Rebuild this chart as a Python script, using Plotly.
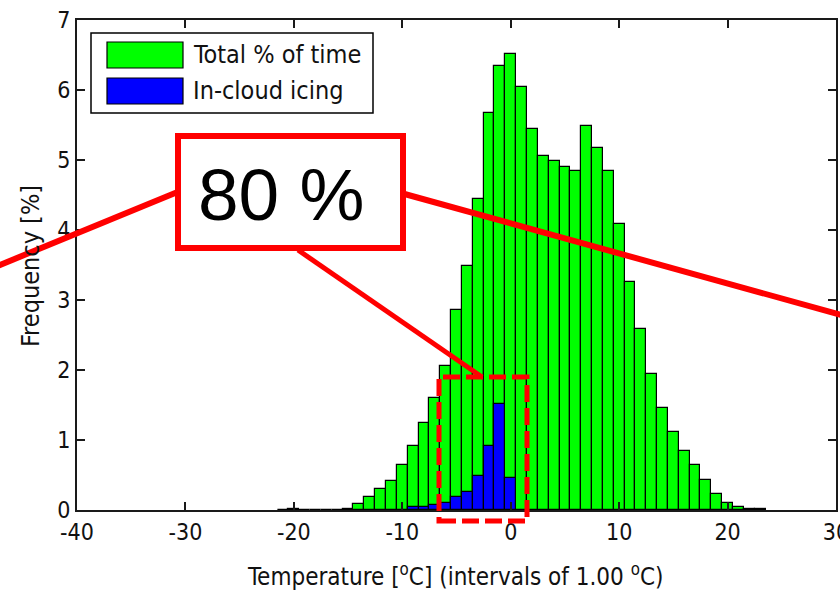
import plotly.graph_objects as go

# ---------------- data ----------------
temps = list(range(-21, 24))
total_pct = [0.005, 0.01, 0.005, 0.005, 0.005, 0.005, 0.01,
             0.08, 0.19, 0.30, 0.41, 0.65, 0.92, 1.25, 1.60, 2.06,
             2.86, 3.48, 4.44, 5.67, 6.35, 6.51, 6.05, 5.45, 5.06,
             4.98, 4.90, 4.84, 5.48, 5.17, 4.85, 4.08, 3.26, 2.58,
             1.95, 1.46, 1.11, 0.84, 0.64, 0.43, 0.23, 0.10, 0.04,
             0.015, 0.01]
icing_temps = [-9, -8, -7, -6, -5, -4, -3, -2, -1, 0]
icing_pct = [0.04, 0.05, 0.07, 0.10, 0.18, 0.26, 0.48, 0.91, 1.52, 0.46]

x_ticks = [-40, -30, -20, -10, 0, 10, 20, 30]
y_ticks = [0, 1, 2, 3, 4, 5, 6, 7]
legend_labels = ["Total % of time", "In-cloud icing"]
callout_text = "80 %"

# ---------------- layout helpers (pixel -> paper) ----------------
W, H = 840, 590
X0, X1, Y0, Y1 = 77, 836, 510, 20


def px(x):
    return (x - X0) / (X1 - X0)


def py(y):
    return (Y0 - y) / (Y0 - Y1)


FONT = "Liberation Sans Narrow, DejaVu Sans Condensed, Liberation Sans, Arial, sans-serif"

fig = go.Figure()
fig.add_trace(go.Bar(x=temps, y=total_pct, width=1, name=legend_labels[0],
                     marker=dict(color="#00FF00", line=dict(color="black", width=1.2))))
fig.add_trace(go.Bar(x=icing_temps, y=icing_pct, width=1, name=legend_labels[1],
                     marker=dict(color="#0000FF", line=dict(color="black", width=1.2))))

shapes = []
annotations = []

# legend (drawn manually to mimic MATLAB)
shapes.append(dict(type="rect", xref="paper", yref="paper", x0=px(91), x1=px(373), y0=py(113), y1=py(33),
                   line=dict(color="black", width=1.5), fillcolor="white", layer="above"))
for i, (col, yc) in enumerate([("#00FF00", 55), ("#0000FF", 91)]):
    shapes.append(dict(type="rect", xref="paper", yref="paper", x0=px(107), x1=px(183),
                       y0=py(yc + 13), y1=py(yc - 13),
                       line=dict(color="black", width=1.2), fillcolor=col, layer="above"))
    annotations.append(dict(xref="paper", yref="paper", x=px(191), y=py(yc), text=legend_labels[i],
                            showarrow=False, xanchor="left", yanchor="middle",
                            font=dict(family=FONT, size=25, color="#111")))

# red callout
RED = "#FF0000"
shapes.append(dict(type="line", xref="paper", yref="paper", x0=px(-5), y0=py(267), x1=px(180), y1=py(191),
                   line=dict(color=RED, width=6), layer="above"))
shapes.append(dict(type="line", xref="paper", yref="paper", x0=px(401), y0=py(193), x1=px(845), y1=py(316),
                   line=dict(color=RED, width=6), layer="above"))
shapes.append(dict(type="line", xref="paper", yref="paper", x0=px(298), y0=py(250), x1=px(482), y1=py(377),
                   line=dict(color=RED, width=5), layer="above"))
shapes.append(dict(type="rect", xref="paper", yref="paper", x0=px(178), x1=px(403), y0=py(248), y1=py(136),
                   line=dict(color=RED, width=6), fillcolor="white", layer="above"))
shapes.append(dict(type="rect", xref="paper", yref="paper", x0=px(439), x1=px(527), y0=py(521), y1=py(377),
                   line=dict(color=RED, width=5, dash="17px,6px"), fillcolor="rgba(0,0,0,0)", layer="above"))
annotations.append(dict(xref="paper", yref="paper", x=px(281), y=py(194), text=callout_text,
                        showarrow=False, xanchor="center", yanchor="middle",
                        font=dict(family="Liberation Sans, Arial, sans-serif", size=73, color="black")))

# axis titles
annotations.append(dict(xref="paper", yref="paper", x=px(455), y=py(575),
                        text="Temperature [<sup>o</sup>C] (intervals of 1.00 <sup>o</sup>C)",
                        showarrow=False, xanchor="center", yanchor="middle",
                        font=dict(family=FONT, size=24, color="#111")))
annotations.append(dict(xref="paper", yref="paper", x=px(30), y=py(266), text="Frequency [%]",
                        showarrow=False, xanchor="center", yanchor="middle", textangle=-90,
                        font=dict(family=FONT, size=25, color="#111")))

axis_common = dict(showline=True, linecolor="#1a1a1a", linewidth=2, mirror="allticks",
                   ticks="inside", ticklen=8, tickwidth=1.5, tickcolor="#1a1a1a",
                   showgrid=False, zeroline=False, automargin=False,
                   ticklabeloverflow="allow",
                   tickfont=dict(family=FONT, size=23, color="#111"))

fig.update_layout(
    template="none",
    width=W, height=H,
    margin=dict(l=X0, r=W - X1, t=Y1, b=H - Y0, pad=0),
    paper_bgcolor="white", plot_bgcolor="white",
    barmode="overlay", bargap=0,
    showlegend=False,
    xaxis=dict(range=[-40, 30], tickvals=x_ticks, ticktext=[str(v) for v in x_ticks], **axis_common),
    yaxis=dict(range=[0, 7], tickvals=y_ticks, ticktext=[str(v) for v in y_ticks], **axis_common),
    shapes=shapes,
    annotations=annotations,
)

fig.write_html("out.html",
               config={"displayModeBar": False},
               post_script="document.body.style.margin='0';document.body.style.overflow='hidden';")
